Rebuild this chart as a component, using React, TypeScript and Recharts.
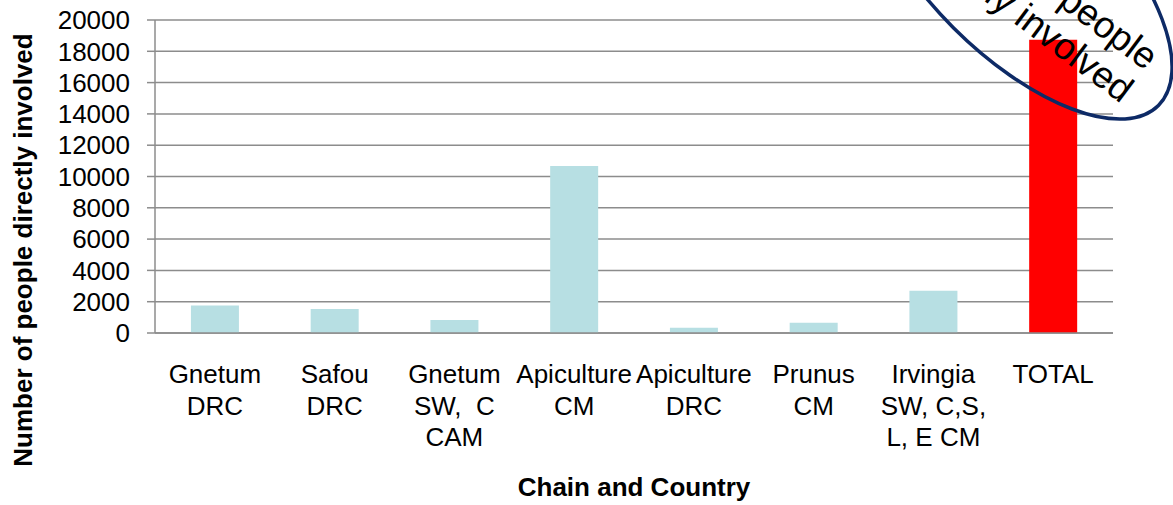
import React from 'react';
import { BarChart, Bar, XAxis, YAxis, CartesianGrid, Cell, Label } from 'recharts';

// chains and people directly involved in each
const chains = [
  'Gnetum\nDRC',
  'Safou\nDRC',
  'Gnetum\nSW,  C\nCAM',
  'Apiculture\nCM',
  'Apiculture\nDRC',
  'Prunus\nCM',
  'Irvingia\nSW, C,S,\nL, E CM',
  'TOTAL',
];
const people = [1750, 1530, 830, 10670, 340, 660, 2700, 18740];
const yTicks = [0, 2000, 4000, 6000, 8000, 10000, 12000, 14000, 16000, 18000, 20000];
const calloutLines = ['18740 people', 'directly involved'];

const W = 1173;
const H = 505;
const FONT = '"Liberation Sans", Arial, sans-serif';
const GRID = '#8c8c8c';
const PLOT_TOP = 20;
const PLOT_BOTTOM = 333;

const data = chains.map((name, i) => ({ name, value: people[i] }));

const ChainTick = ({ x, payload }: any) => {
  const lines = String(payload.value).split('\n');
  return (
    <text x={x} y={PLOT_BOTTOM} textAnchor="middle" fontSize={26} fontFamily={FONT} fill="#000" style={{ whiteSpace: 'pre' }}>
      {lines.map((l, i) => (
        <tspan key={i} x={x} dy={i === 0 ? 50 : 31.5}>{l}</tspan>
      ))}
    </text>
  );
};

// oval callout around the total, running off the top edge
const Callout = () => (
  <svg width={W} height={H} style={{ position: 'absolute', left: 0, top: 0, pointerEvents: 'none', overflow: 'hidden' }}>
    <ellipse cx={0} cy={0} rx={200} ry={90} fill="none" stroke="#0d2a66" strokeWidth={3.5}
      transform="translate(1017,-36) rotate(45)" />
    <g transform="translate(1121,104) rotate(37)">
      {calloutLines.map((l, i) => (
        <text key={i} x={0} y={(i - calloutLines.length + 1) * 41} textAnchor="end" fontSize={37} fontFamily={FONT} fill="#000">{l}</text>
      ))}
    </g>
  </svg>
);

export default function App() {
  return (
    <div style={{ position: 'absolute', left: 0, top: 0, width: W, height: H, background: '#fff', fontFamily: FONT }}>
      <BarChart width={W} height={H} data={data} margin={{ top: PLOT_TOP, right: 60, left: 0, bottom: 0 }} barCategoryGap="30%">
        <CartesianGrid vertical={false} stroke={GRID} strokeWidth={1.5} />
        <XAxis dataKey="name" interval={0} height={H - PLOT_BOTTOM} tick={<ChainTick />}
          tickLine={false} axisLine={{ stroke: GRID, strokeWidth: 1.5 }}>
          <Label content={() => (
            <text x={634} y={496} textAnchor="middle" fontSize={26} fontWeight="bold" fontFamily={FONT} fill="#000">Chain and Country</text>
          )} />
        </XAxis>
        <YAxis width={155} domain={[0, 20000]} ticks={yTicks} interval={0} tickSize={8} tickMargin={17}
          tick={{ fontSize: 26, fill: '#000', fontFamily: FONT }}
          tickLine={{ stroke: GRID, strokeWidth: 1.5 }} axisLine={{ stroke: GRID, strokeWidth: 1.5 }}>
          <Label content={() => (
            <text x={32} y={250} transform="rotate(-90 32 250)" textAnchor="middle" fontSize={26} fontWeight="bold" fontFamily={FONT} fill="#000">
              Number of people directly involved
            </text>
          )} />
        </YAxis>
        <Bar dataKey="value" isAnimationActive={false}>
          {data.map((d, i) => (
            <Cell key={i} fill={d.name === 'TOTAL' ? '#ff0000' : '#b7dfe3'} />
          ))}
        </Bar>
      </BarChart>
      <Callout />
    </div>
  );
}
